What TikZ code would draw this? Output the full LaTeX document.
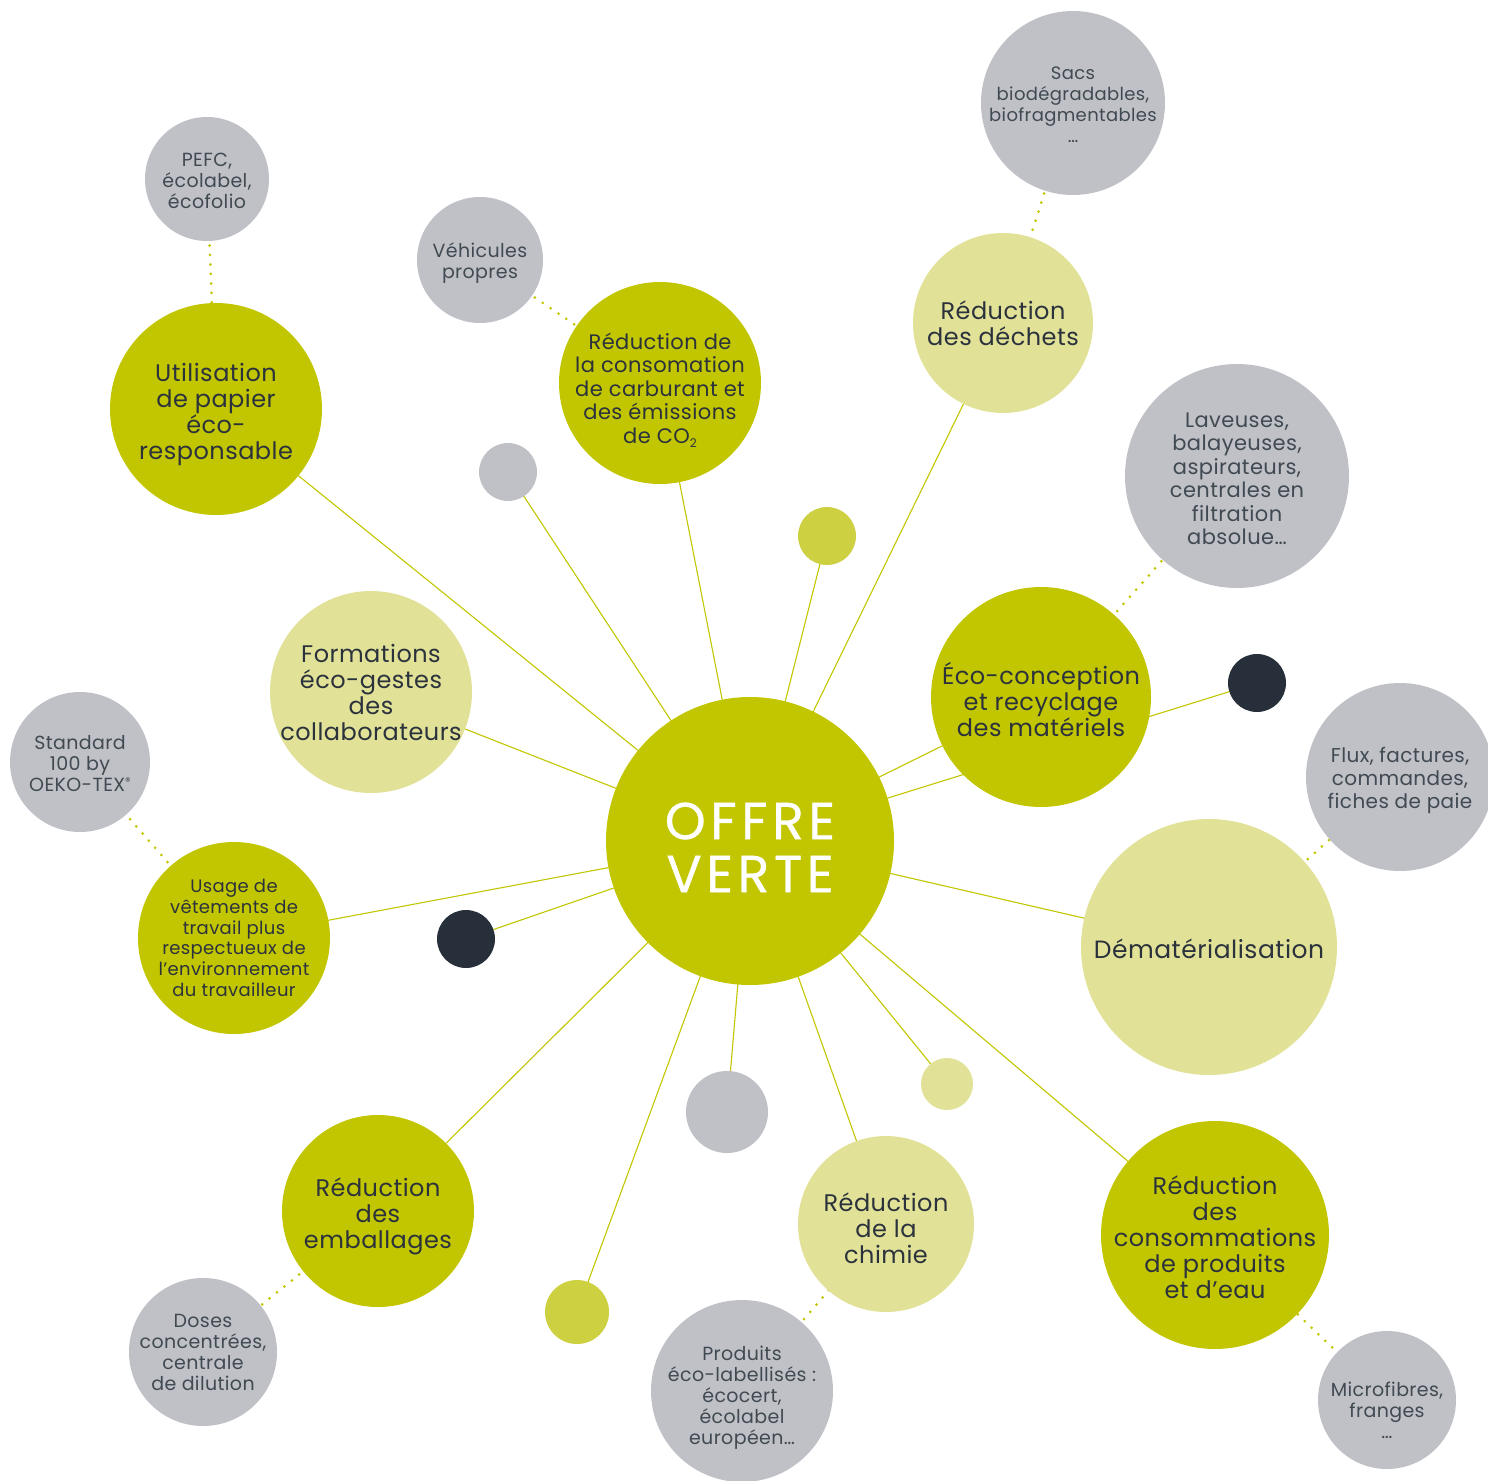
\documentclass[tikz,border=0pt]{standalone}
\usepackage{fontspec}
\setmainfont{Poppins}[LetterSpace=2]
\newfontfamily\offrefont{Poppins}[LetterSpace=9,FakeBold=0.7]
\usetikzlibrary{backgrounds}
\definecolor{vgreen}{HTML}{C2C600}
\definecolor{vlight}{HTML}{E1E298}
\definecolor{vgray}{HTML}{BFC1C7}
\definecolor{vdark}{HTML}{262F3A}
\definecolor{volive}{HTML}{CDD040}
\definecolor{vtext}{HTML}{2B323C}
\definecolor{vstext}{HTML}{414952}
\begin{document}
\begin{tikzpicture}[x=1pt,y=-1pt,
  disc/.style={circle,inner sep=0pt,draw=none,minimum size=#1},
  gdisc/.style={disc=#1,fill=vgreen},
  ldisc/.style={disc=#1,fill=vlight},
  sdisc/.style={disc=#1,fill=vgray},
  ddisc/.style={disc=#1,fill=vdark},
  odisc/.style={disc=#1,fill=volive},
  mainlbl/.style={align=center,text=vtext,inner sep=0pt,font=\fontsize{23}{26}\selectfont},
  satlbl/.style={align=center,text=vstext,inner sep=0pt,font=\fontsize{19}{21}\selectfont},
  bigword/.style={text=white,inner sep=0pt,font=\offrefont\fontsize{52}{52}\selectfont},
  link/.style={draw=vgreen,line width=1.1pt},
  dotlink/.style={draw=vgreen,line width=3pt,line cap=round,dash pattern=on 0pt off 9.5pt}]
\useasboundingbox (0,0) rectangle (1488,1480);
% discs
\node[gdisc=288] (c) at (750,841) {};
\node[gdisc=212] (pap) at (216,409) {};
\node[sdisc=124] (pefc) at (207,179) {};
\node[sdisc=126] (veh) at (480,260) {};
\node[gdisc=202] (carb) at (660,383) {};
\node[sdisc=58] (s1) at (508,472) {};
\node[odisc=58] (s2) at (827,536) {};
\node[ldisc=180] (dech) at (1003,323) {};
\node[sdisc=184] (sacs) at (1073,103) {};
\node[sdisc=224] (lav) at (1237,476) {};
\node[gdisc=220] (eco) at (1041,697) {};
\node[ddisc=58] (s3) at (1257,683) {};
\node[sdisc=188] (flux) at (1400,777) {};
\node[ldisc=256] (demat) at (1209,947) {};
\node[ldisc=202] (form) at (371,692) {};
\node[sdisc=140] (std) at (80,762) {};
\node[gdisc=192] (vet) at (234,938) {};
\node[ddisc=58] (s4) at (466,939) {};
\node[gdisc=192] (emb) at (378,1211) {};
\node[sdisc=148] (dos) at (203,1352) {};
\node[odisc=64] (s5) at (577,1312) {};
\node[sdisc=82] (s6) at (727,1112) {};
\node[ldisc=176] (chim) at (886,1224) {};
\node[sdisc=182] (prod) at (742,1391) {};
\node[ldisc=52] (s7) at (947,1084) {};
\node[gdisc=228] (cons) at (1215,1235) {};
\node[sdisc=138] (micro) at (1387,1400) {};
% connectors
\begin{pgfonlayer}{background}
\foreach \n in {pap,s1,carb,s2,dech,eco,s3,demat,cons,s7,chim,s6,s5,emb,s4,vet,form}
  \draw[link] (c.center) -- (\n.center);
\draw[dotlink] (pefc.center) -- (pap.center);
\draw[dotlink] (veh.center) -- (carb.center);
\draw[dotlink] (sacs.center) -- (dech.center);
\draw[dotlink] (lav.center) -- (eco.center);
\draw[dotlink] (flux.center) -- (demat.center);
\draw[dotlink] (std.center) -- (vet.center);
\draw[dotlink] (dos.center) -- (emb.center);
\draw[dotlink] (prod.center) -- (chim.center);
\draw[dotlink] (micro.center) -- (cons.center);
\end{pgfonlayer}
% labels
\node[bigword] (tc1) at ([yshift=20]c.center) {OFFRE};
\node[bigword] (tc2) at ([yshift=-33]c.center) {VERTE};
\node[mainlbl,font=\fontsize{24}{26}\selectfont] (tpap) at ([yshift=-5]pap.center) {Utilisation\\de papier\\éco-\\responsable};
\node[satlbl] (tpefc) at ([yshift=-2]pefc.center) {PEFC,\\écolabel,\\écofolio};
\node[satlbl] (tveh) at ([yshift=-3]veh.center) {Véhicules\\propres};
\node[mainlbl,font=\fontsize{21}{23.5}\selectfont] (tcarb) at ([yshift=-7]carb.center) {Réduction de\\la consomation\\de carburant et\\des émissions\\de CO{\fontsize{12}{12}\selectfont\raisebox{-4pt}{2}}};
\node[mainlbl,font=\fontsize{24}{26}\selectfont] (tdech) at (dech) {Réduction\\des déchets};
\node[satlbl,font=\fontsize{18}{21}\selectfont] (tsacs) at ([yshift=-2]sacs.center) {Sacs\\biodégradables,\\biofragmentables\\…};
\node[satlbl,font=\fontsize{21}{23.5}\selectfont] (tlav) at ([yshift=-3]lav.center) {Laveuses,\\balayeuses,\\aspirateurs,\\centrales en\\filtration\\absolue…};
\node[mainlbl,font=\fontsize{24}{26}\selectfont] (teco) at ([yshift=-2]eco.center) {Éco-conception\\et recyclage\\des matériels};
\node[satlbl,font=\fontsize{20}{23}\selectfont] (tflux) at ([yshift=-3]flux.center) {Flux, factures,\\commandes,\\fiches de paie};
\node[mainlbl,font=\fontsize{25}{26}\selectfont] (tdemat) at ([yshift=-2]demat.center) {Dématérialisation};
\node[mainlbl,font=\fontsize{24}{26}\selectfont] (tform) at (form) {Formations\\éco-gestes\\des\\collaborateurs};
\node[satlbl] (tstd) at ([yshift=-2]std.center) {Standard\\100 by\\OEKO-TEX{\fontsize{11}{11}\selectfont\raisebox{6pt}{®}}};
\node[mainlbl,font=\fontsize{18}{20.8}\selectfont] (tvet) at (vet) {Usage de\\vêtements de\\travail plus\\respectueux de\\l’environnement\\du travailleur};
\node[mainlbl,font=\fontsize{24}{26}\selectfont] (temb) at ([yshift=-5]emb.center) {Réduction\\des\\emballages};
\node[satlbl] (tdos) at (dos) {Doses\\concentrées,\\centrale\\de dilution};
\node[mainlbl,font=\fontsize{24}{26}\selectfont] (tchim) at ([yshift=-4]chim.center) {Réduction\\de la\\chimie};
\node[satlbl] (tprod) at ([yshift=-7]prod.center) {Produits\\éco-labellisés :\\écocert,\\écolabel\\européen…};
\node[mainlbl,font=\fontsize{24}{26}\selectfont] (tcons) at ([yshift=-2]cons.center) {Réduction\\des\\consommations\\de produits\\et d’eau};
\node[satlbl] (tmicro) at ([yshift=-10]micro.center) {Microfibres,\\franges\\…};
\end{tikzpicture}
\end{document}
